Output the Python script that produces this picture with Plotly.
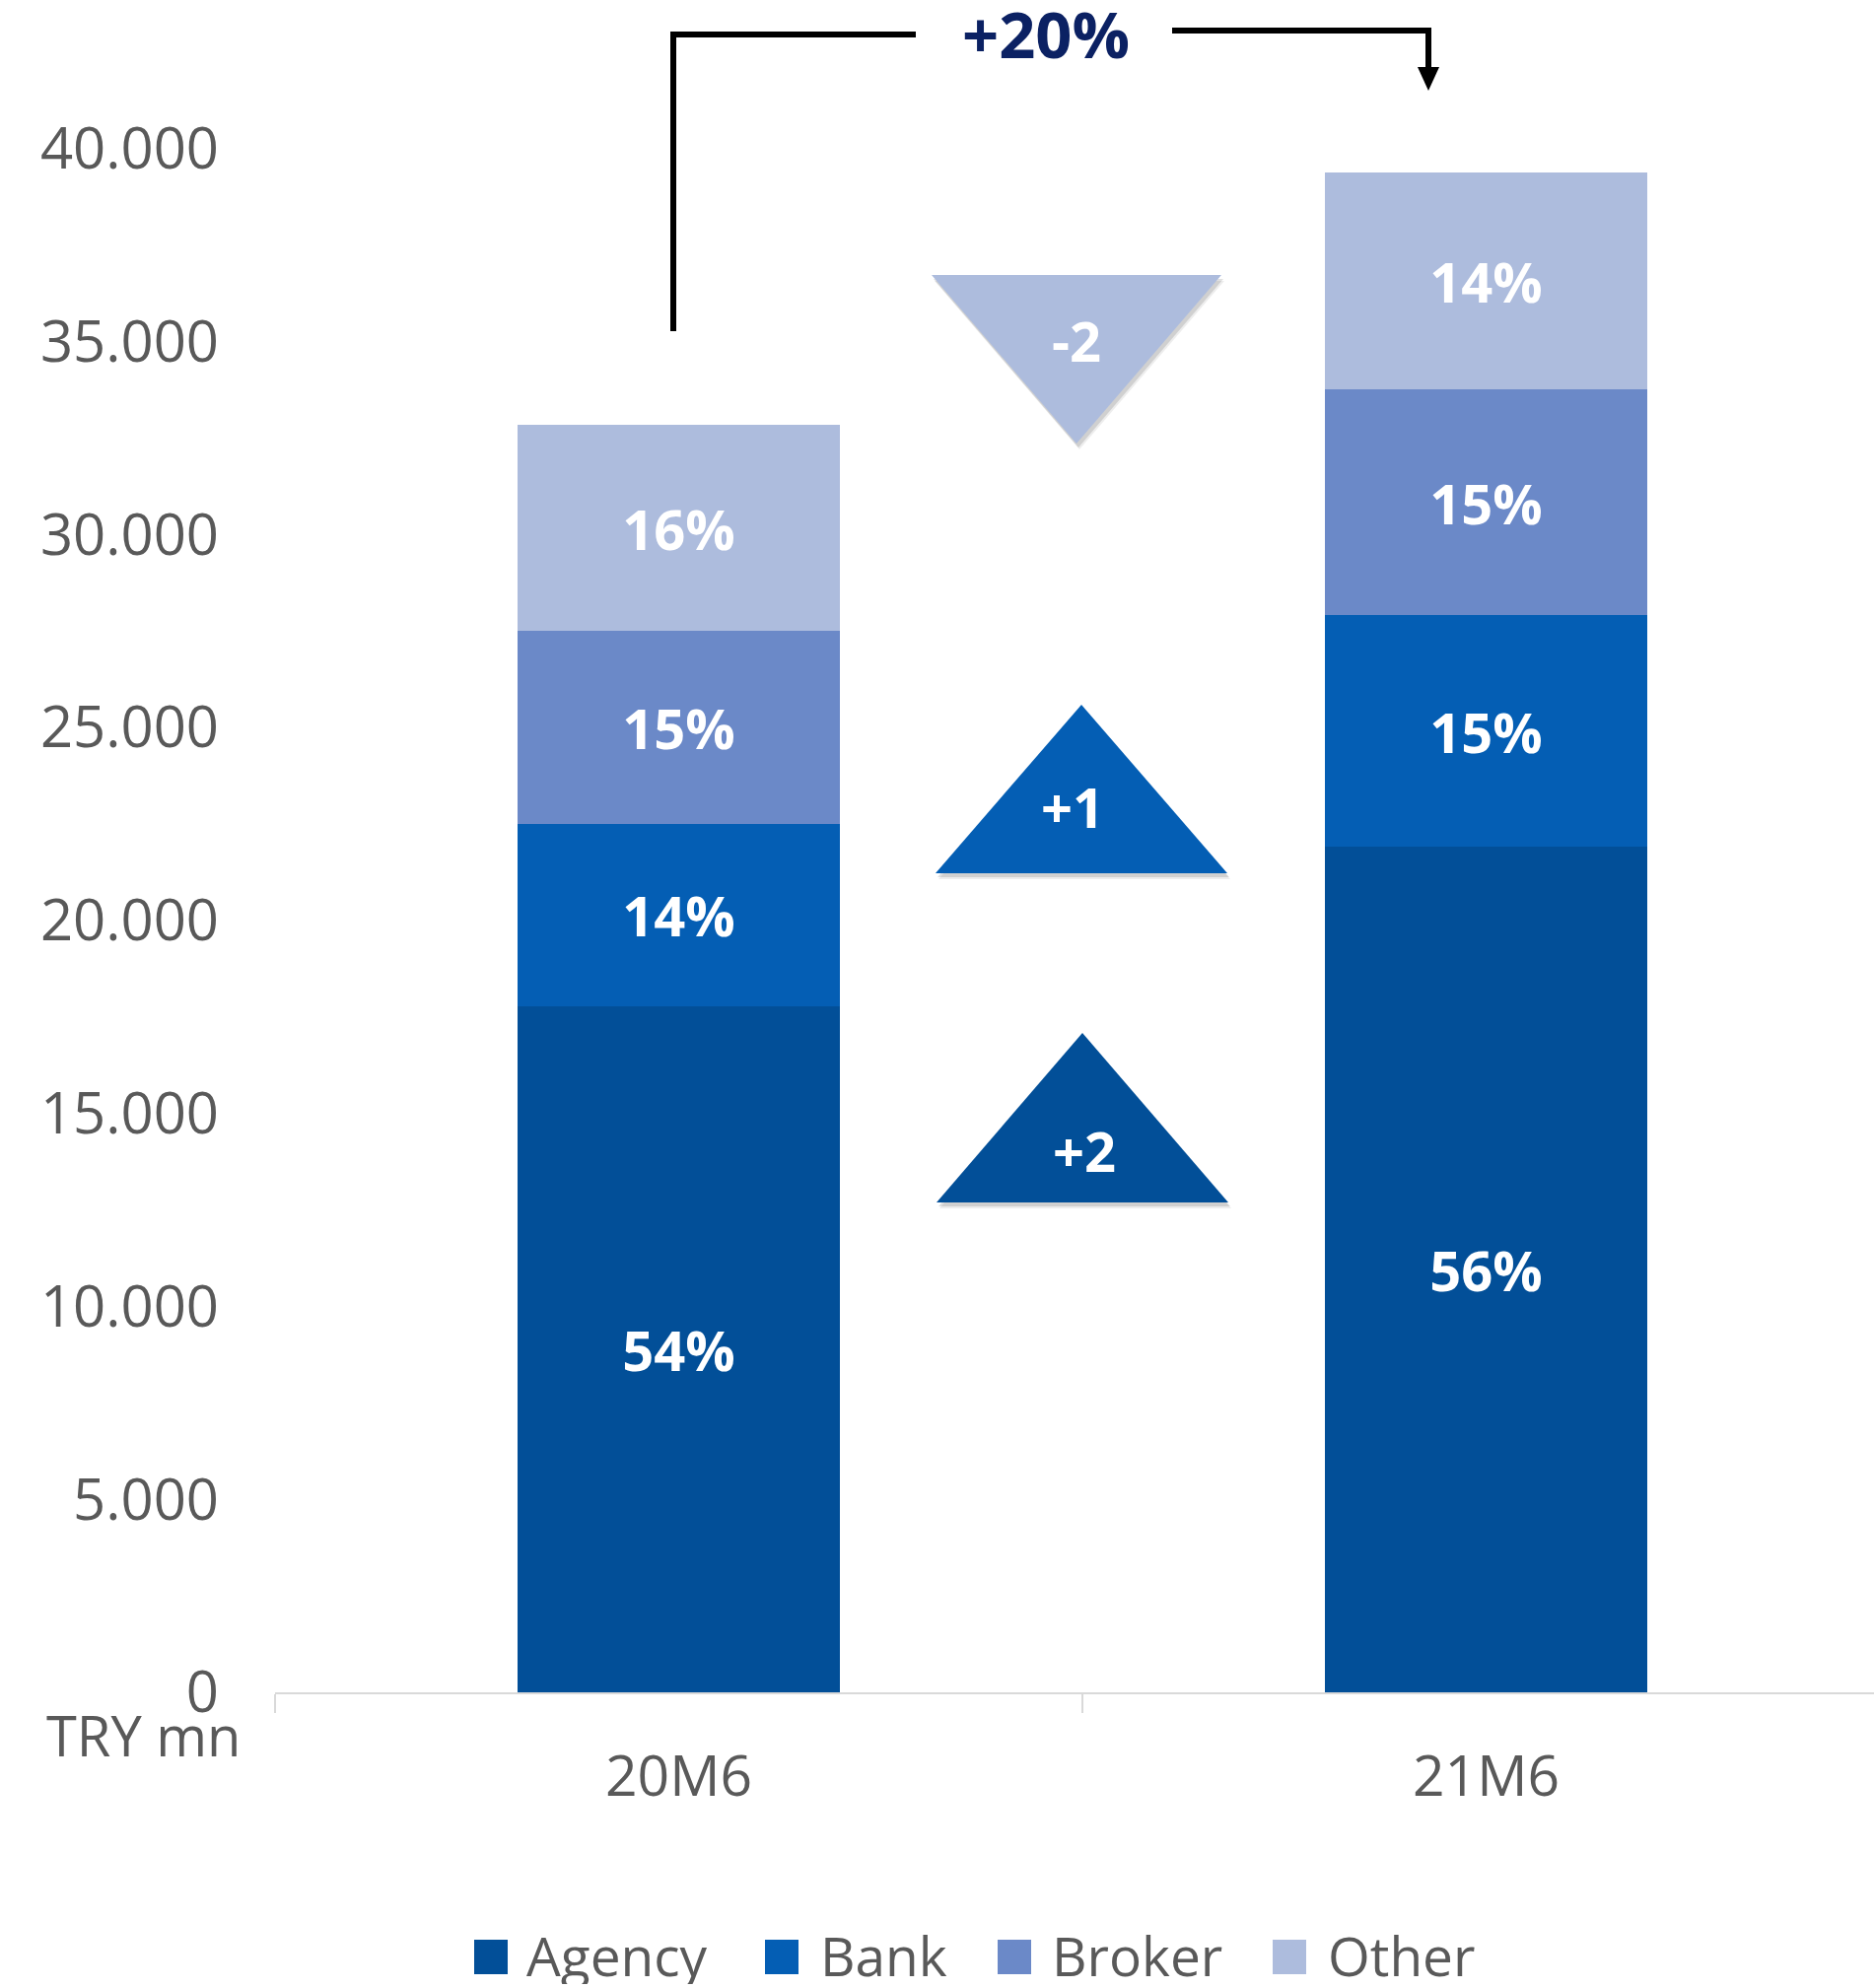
import plotly.graph_objects as go

# Premium production by channel, TRY mn
periods = ["20M6", "21M6"]
channels = ["Agency", "Bank", "Broker", "Other"]
agency = [17780, 21900]
bank = [4720, 6000]
broker = [4990, 5850]
other = [5360, 5630]
colors = ["#024F98", "#045EB4", "#6B89C8", "#ADBCDD"]

series = [agency, bank, broker, other]
totals = [sum(s[i] for s in series) for i in range(len(periods))]
shares = [[round(100 * s[i] / totals[i]) for i in range(len(periods))] for s in series]
growth = round(100 * (totals[1] / totals[0] - 1))

GRAY = "#595959"
W, H = 1901, 2017
L, R, T, B = 279, 0, 0, 300
PLOT_W, PLOT_H = W - L - R, H - T - B
PX_PER_UNIT = 0.03916


def px(x):
    return (x - L) / PLOT_W


def py(y):
    return (H - B - y) / PLOT_H


fig = go.Figure()
for name, vals, col, sh in zip(channels, series, colors, shares):
    fig.add_trace(go.Bar(
        x=periods, y=vals, name=name,
        marker=dict(color=col, line=dict(width=0)),
        text=[f"{p}%" for p in sh],
        textposition="inside", insidetextanchor="middle",
        textangle=0, constraintext="none",
        textfont=dict(family="Open Sans", size=56, color="white", weight=700),
        showlegend=False,
    ))

shapes = []
annotations = []

# change markers (percentage-point shift in channel share)
tri_layout = {
    "Agency": dict(cx=1098, top=1048, bottom=1220, half=148, label=(1100, 1167)),
    "Bank": dict(cx=1097, top=715, bottom=886, half=148, label=(1088, 818)),
    "Other": dict(cx=1092, top=279, bottom=450, half=147, label=(1092, 345)),
}
for name, col, sh in zip(channels, colors, shares):
    d = sh[1] - sh[0]
    if d == 0 or name not in tri_layout:
        continue
    g = tri_layout[name]
    cx, t, b, h = g["cx"], g["top"], g["bottom"], g["half"]
    if d > 0:
        pts = [(cx, t), (cx + h, b), (cx - h, b)]
    else:
        pts = [(cx - h, t), (cx + h, t), (cx, b)]

    def path(dx, dy):
        return "M " + " L ".join(f"{px(x + dx):.5f},{py(y + dy):.5f}" for x, y in pts) + " Z"

    for dx, dy, a in [(3, 6, 0.07), (2, 4, 0.12)]:
        shapes.append(dict(type="path", xref="paper", yref="paper", path=path(dx, dy),
                           fillcolor=f"rgba(0,0,0,{a})", line=dict(width=0), layer="above"))
    shapes.append(dict(type="path", xref="paper", yref="paper", path=path(0, 0),
                       fillcolor=col, line=dict(width=0), layer="above"))
    lx, ly = g["label"]
    annotations.append(dict(
        x=px(lx), y=py(ly), xref="paper", yref="paper",
        text=f"{d:+d}", showarrow=False, xanchor="center", yanchor="middle",
        font=dict(family="Open Sans", size=56, color="white", weight=700),
    ))

# growth bracket between the two totals
LINE = dict(color="black", width=6)
bracket = [
    ((683, 336), (683, 35)),
    ((680, 35), (929, 35)),
    ((1189, 31), (1452, 31)),
    ((1449, 31), (1449, 72)),
]
for (x0, y0), (x1, y1) in bracket:
    shapes.append(dict(type="line", xref="paper", yref="paper",
                       x0=px(x0), y0=py(y0), x1=px(x1), y1=py(y1), line=LINE, layer="above"))
shapes.append(dict(type="path", xref="paper", yref="paper",
                   path=f"M {px(1438):.5f},{py(68):.5f} L {px(1460):.5f},{py(68):.5f} L {px(1449):.5f},{py(92):.5f} Z",
                   fillcolor="black", line=dict(width=0), layer="above"))
annotations.append(dict(
    x=px(1061), y=py(34), xref="paper", yref="paper",
    text=f"+{growth}%", showarrow=False, xanchor="center", yanchor="middle",
    height=64,
    font=dict(family="Open Sans", size=65, color="#0B2163", weight=700),
))

# unit label under the value axis
annotations.append(dict(
    x=px(246), y=py(1760), xref="paper", yref="paper",
    text="TRY mn", showarrow=False, xanchor="right", yanchor="middle",
    height=50,
    font=dict(family="Open Sans", size=56, color=GRAY),
))

# legend
legend_pos = [(481, 532), (776, 830), (1012, 1065), (1291, 1345)]
for (sx, tx), name, col in zip(legend_pos, channels, colors):
    shapes.append(dict(type="rect", xref="paper", yref="paper",
                       x0=px(sx), x1=px(sx + 34), y0=py(2003), y1=py(1968),
                       fillcolor=col, line=dict(width=0)))
    annotations.append(dict(
        x=px(tx), y=py(1983), xref="paper", yref="paper",
        text=name, showarrow=False, xanchor="left", yanchor="middle",
        height=60,
        font=dict(family="Open Sans", size=55, color=GRAY),
    ))

fig.update_layout(
    template="none",
    width=W, height=H,
    margin=dict(l=L, r=R, t=T, b=B, autoexpand=False),
    barmode="stack", bargap=0.6,
    plot_bgcolor="white", paper_bgcolor="white",
    separators=",.",
    showlegend=False,
    shapes=shapes, annotations=annotations,
    xaxis=dict(
        type="category", range=[-0.5, -0.5 + PLOT_W / 819],
        showline=True, linecolor="#D9D9D9", linewidth=2,
        ticks="outside", tickson="boundaries", ticklen=19, tickwidth=2, tickcolor="#D9D9D9",
        showgrid=False, zeroline=False, automargin=False,
        tickfont=dict(family="Open Sans", size=57, color=GRAY),
        ticklabelstandoff=35,
    ),
    yaxis=dict(
        range=[0, PLOT_H / PX_PER_UNIT],
        tickvals=list(range(0, 40001, 5000)), tickformat=",.0f",
        showline=False, showgrid=False, zeroline=False, ticks="",
        automargin=False,
        tickfont=dict(family="Open Sans", size=58, color=GRAY),
        ticklabelstandoff=56,
    ),
)

fig.write_html("out.html")
